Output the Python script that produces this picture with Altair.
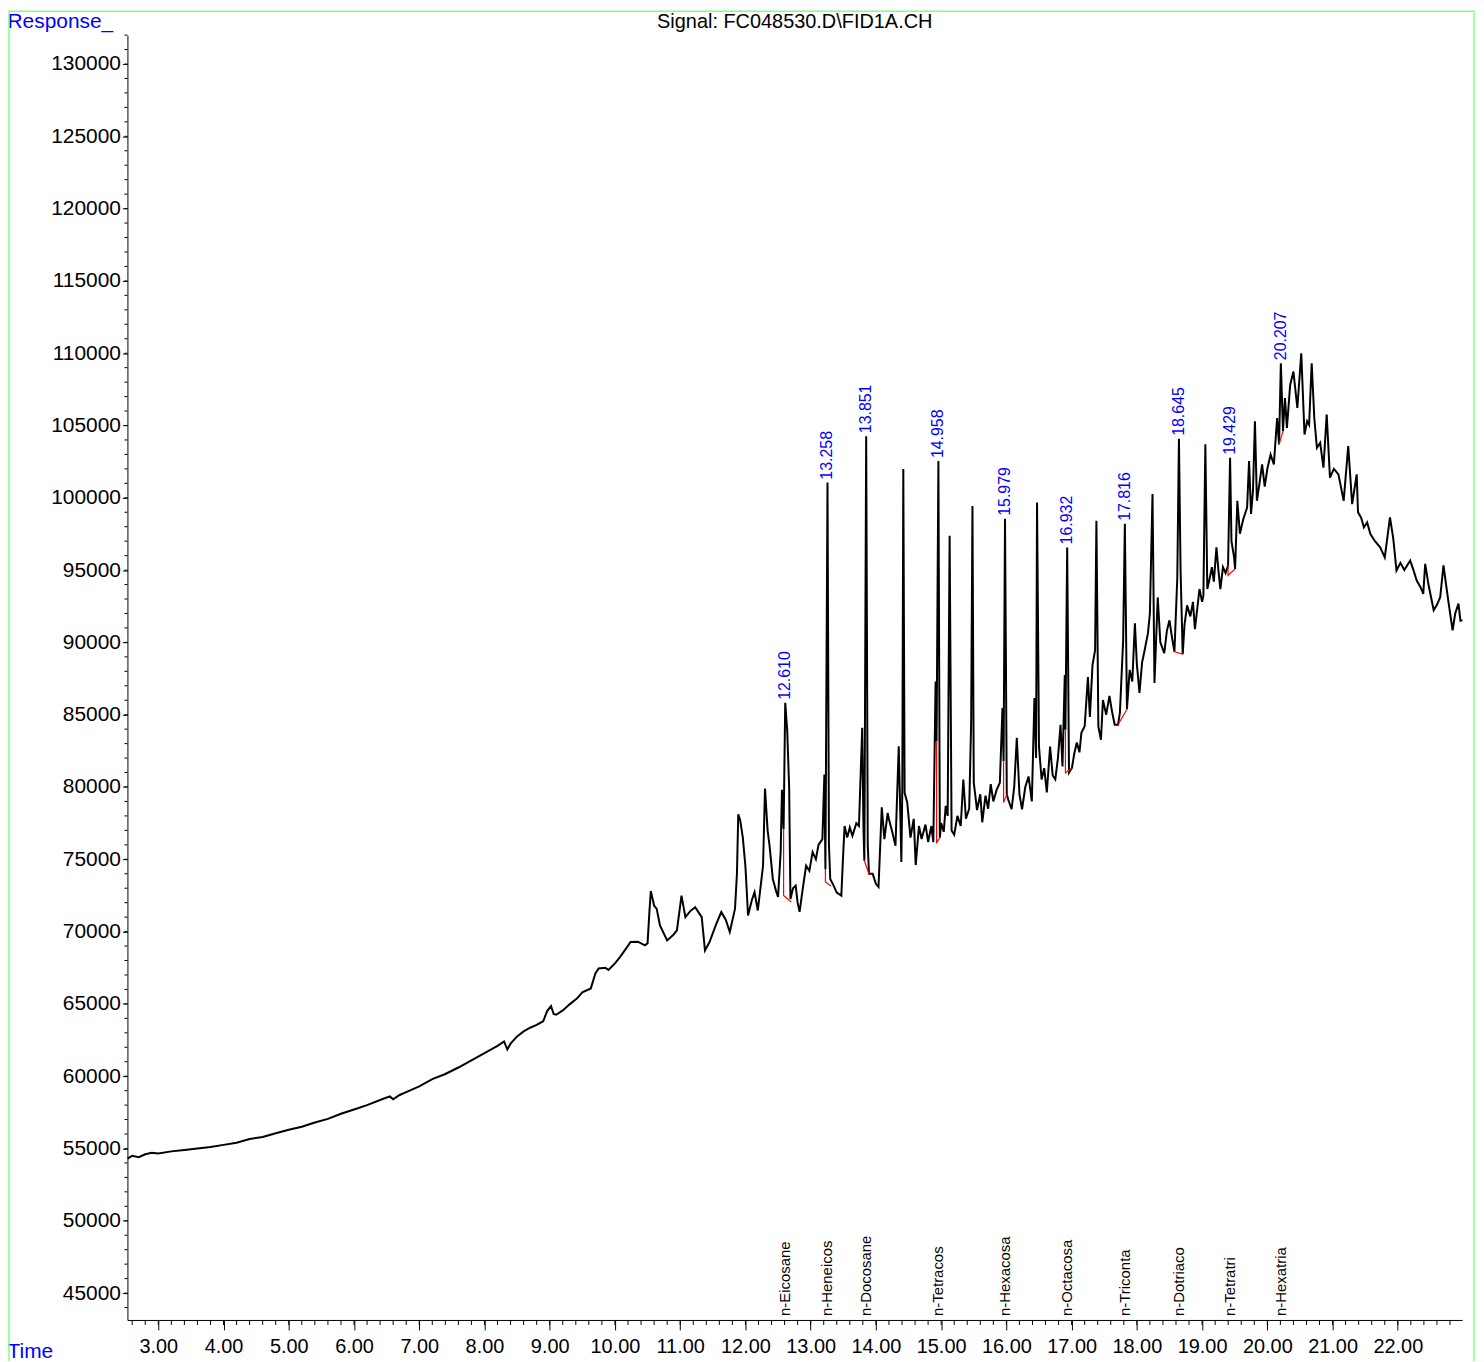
import altair as alt
import pandas as pd

# ---------------- data ----------------
time_min = [
    2.53, 2.60, 2.70, 2.80, 2.90, 3.00, 3.20, 3.40, 3.60, 3.80, 4.00, 4.20, 4.40, 4.60, 4.80,
    5.00, 5.20, 5.40, 5.60, 5.80, 6.00, 6.20, 6.40, 6.55, 6.60, 6.70, 6.80, 7.00, 7.20, 7.40,
    7.60, 7.80, 8.00, 8.20, 8.30, 8.35, 8.40, 8.50, 8.60, 8.70, 8.80, 8.90, 8.96, 9.02, 9.06,
    9.10, 9.20, 9.30, 9.42, 9.50, 9.63, 9.70, 9.75, 9.85, 9.90, 10.00, 10.08, 10.15, 10.24, 10.35,
    10.46, 10.50, 10.53, 10.55, 10.60, 10.64, 10.69, 10.80, 10.90, 10.95, 11.02, 11.08, 11.15, 11.23, 11.33,
    11.38, 11.45, 11.55, 11.63, 11.70, 11.76, 11.84, 11.87, 11.89, 11.92, 11.96, 12.00, 12.04, 12.10, 12.14,
    12.19, 12.27, 12.30, 12.34, 12.37, 12.42, 12.47, 12.50, 12.54, 12.56, 12.585, 12.61, 12.64, 12.67, 12.69,
    12.73, 12.77, 12.80, 12.83, 12.88, 12.93, 12.98, 13.03, 13.08, 13.12, 13.18, 13.21, 13.226, 13.258, 13.28,
    13.30, 13.35, 13.40, 13.47, 13.50, 13.52, 13.56, 13.60, 13.64, 13.70, 13.74, 13.79, 13.81, 13.823, 13.851,
    13.875, 13.894, 13.95, 14.00, 14.04, 14.09, 14.13, 14.18, 14.20, 14.25, 14.30, 14.35, 14.38, 14.39, 14.405,
    14.42, 14.44, 14.48, 14.53, 14.58, 14.61, 14.66, 14.70, 14.76, 14.80, 14.85, 14.88, 14.915, 14.93, 14.958,
    14.98, 15.00, 15.04, 15.07, 15.10, 15.13, 15.16, 15.20, 15.25, 15.30, 15.34, 15.38, 15.43, 15.46, 15.48,
    15.50, 15.55, 15.60, 15.63, 15.68, 15.72, 15.76, 15.80, 15.85, 15.90, 15.94, 15.957, 15.979, 16.006, 16.03,
    16.08, 16.12, 16.16, 16.20, 16.24, 16.29, 16.34, 16.39, 16.43, 16.455, 16.47, 16.50, 16.54, 16.58, 16.62,
    16.67, 16.71, 16.75, 16.79, 16.83, 16.86, 16.895, 16.905, 16.932, 16.96, 17.005, 17.04, 17.08, 17.12, 17.15,
    17.20, 17.25, 17.28, 17.32, 17.36, 17.38, 17.41, 17.45, 17.48, 17.53, 17.58, 17.62, 17.66, 17.711, 17.74,
    17.79, 17.816, 17.848, 17.89, 17.93, 17.97, 18.00, 18.04, 18.08, 18.12, 18.17, 18.20, 18.24, 18.27, 18.32,
    18.36, 18.42, 18.46, 18.50, 18.54, 18.576, 18.62, 18.645, 18.67, 18.703, 18.73, 18.77, 18.82, 18.86, 18.89,
    18.93, 18.96, 19.00, 19.02, 19.05, 19.08, 19.12, 19.15, 19.18, 19.22, 19.25, 19.28, 19.32, 19.36, 19.398,
    19.429, 19.45, 19.49, 19.506, 19.54, 19.58, 19.63, 19.69, 19.72, 19.75, 19.78, 19.81, 19.84, 19.88, 19.92,
    19.96, 20.00, 20.05, 20.10, 20.15, 20.18, 20.207, 20.24, 20.27, 20.30, 20.35, 20.40, 20.46, 20.52, 20.57,
    20.61, 20.64, 20.68, 20.72, 20.76, 20.81, 20.86, 20.91, 20.96, 21.02, 21.09, 21.17, 21.24, 21.30, 21.37,
    21.39, 21.44, 21.48, 21.53, 21.58, 21.65, 21.73, 21.80, 21.88, 21.93, 21.98, 22.04, 22.10, 22.19, 22.24,
    22.29, 22.35, 22.39, 22.42, 22.47, 22.55, 22.60, 22.65, 22.70, 22.74, 22.78, 22.84, 22.88, 22.93, 22.96,
    22.99,
]
response = [
    54300, 54500, 54400, 54600, 54700, 54650, 54800, 54900, 55000, 55100, 55250, 55400, 55650, 55800, 56050,
    56300, 56500, 56800, 57050, 57400, 57700, 58000, 58350, 58600, 58400, 58700, 58900, 59300, 59800, 60150,
    60600, 61100, 61600, 62100, 62400, 61850, 62250, 62750, 63100, 63350, 63550, 63800, 64500, 64850, 64300,
    64250, 64550, 64950, 65380, 65800, 66070, 67100, 67450, 67500, 67350, 67800, 68250, 68700, 69280, 69300,
    69050, 69200, 71500, 72800, 71800, 71570, 70420, 69390, 69800, 70080, 72490, 71000, 71400, 71690, 71000,
    68700, 69280, 70500, 71350, 70800, 69970, 71570, 74000, 78110, 77700, 76500, 74500, 71110, 72200, 72720,
    71460, 74550, 79900, 77000, 75930, 73640, 72800, 72400, 75500, 79800, 77080, 85820, 83960, 80000, 72260,
    73000, 73180, 72000, 71370, 73000, 74550, 74200, 75500, 75000, 76000, 76390, 80860, 74320, 101050, 76000,
    73640, 73200, 72700, 72490, 75500, 77300, 76500, 77200, 76620, 77500, 77300, 84100, 77000, 74900, 104260,
    76000, 74000, 74000, 73300, 73090, 78590, 76400, 78200, 77770, 76900, 75930, 82810, 77000, 74810, 80000,
    101990, 79600, 78930, 76500, 77800, 74600, 77300, 76400, 77400, 76200, 77300, 76180, 87290, 83150, 102540,
    76500, 77500, 76900, 78690, 78000, 97380, 77000, 76700, 78000, 77300, 80520, 77800, 78500, 84440, 99440,
    80310, 78400, 79500, 77560, 79400, 78500, 80200, 79000, 79800, 80300, 85470, 81780, 98550, 79490, 79100,
    78460, 80000, 83410, 79500, 78460, 80000, 80730, 79000, 86160, 82000, 99670, 82790, 80520, 81300, 79620,
    82790, 80800, 80520, 82000, 84300, 81420, 87750, 83960, 96570, 81000, 81320, 82300, 83070, 82400, 83750,
    84200, 87600, 84850, 88430, 89470, 98410, 84170, 83270, 86020, 85000, 86300, 85200, 84300, 84300, 85130,
    90150, 98200, 85380, 88100, 87300, 91320, 88500, 86510, 88600, 89470, 90640, 92010, 100270, 87190, 93110,
    90000, 89260, 90800, 91530, 90300, 89350, 94490, 104080, 95000, 89190, 91200, 92560, 91800, 92800, 90910,
    92500, 93690, 92800, 93250, 103710, 93690, 94500, 95200, 94200, 96570, 95000, 93690, 95200, 94800, 95320,
    102770, 97000, 95900, 95080, 99790, 97520, 98500, 99330, 102540, 98890, 100500, 105290, 99790, 101000, 102310,
    100780, 102000, 103000, 102300, 105520, 103690, 109310, 104610, 106900, 104840, 107800, 108730, 106210, 110000, 104380,
    105300, 105050, 109310, 105500, 103460, 103800, 102080, 105760, 101390, 102000, 101620, 99790, 103570, 99560, 101620,
    99000, 98600, 97950, 98300, 97490, 97000, 96570, 95880, 98640, 97200, 94970, 95500, 95000, 95660, 95000,
    94280, 93800, 93360, 95430, 94000, 92220, 92600, 93130, 95320, 94000, 92680, 90840, 92000, 92680, 91500,
    91530,
]

peak_rt = [12.610, 13.258, 13.851, 14.958, 15.979, 16.932, 17.816, 18.645, 19.429, 20.207]
peak_top = [85820, 101050, 104260, 102540, 98550, 96570, 98200, 104080, 102770, 109310]
peak_text = ["12.610", "13.258", "13.851", "14.958", "15.979", "16.932", "17.816", "18.645", "19.429", "20.207"]
compound = ["n-Eicosane", "n-Heneicos", "n-Docosane", "n-Tetracos", "n-Hexacosa",
            "n-Octacosa", "n-Triconta", "n-Dotriaco", "n-Tetratri", "n-Hexatria"]

# integration baselines (red), one polyline per peak
base_peak = [1, 1, 1, 2, 2, 2, 3, 3, 4, 4, 4, 5, 5, 5, 6, 6, 6, 7, 7, 8, 8, 9, 9, 9, 10, 10]
base_time = [12.585, 12.585, 12.703, 13.226, 13.226, 13.313, 13.823, 13.894, 14.93, 14.93, 14.99,
             15.957, 15.957, 16.006, 16.905, 16.905, 17.005, 17.711, 17.848, 18.576, 18.703,
             19.398, 19.398, 19.506, 20.18, 20.24]
base_resp = [77080, 72490, 72050, 74320, 73430, 73150, 74900, 73980, 83150, 76160, 76530,
             81780, 78920, 79490, 83960, 80980, 81320, 84300, 85380, 89350, 89190,
             95320, 94630, 95080, 103690, 104610]

x_major = [3, 4, 5, 6, 7, 8, 9, 10, 11, 12, 13, 14, 15, 16, 17, 18, 19, 20, 21, 22]
x_minor = [round(2.6 + 0.2 * i, 1) for i in range(102)]
y_major = [45000, 50000, 55000, 60000, 65000, 70000, 75000, 80000, 85000, 90000,
           95000, 100000, 105000, 110000, 115000, 120000, 125000, 130000]
y_minor = [44000 + 1000 * i for i in range(89)]

signal_title = "Signal: FC048530.D\\FID1A.CH"

# ---------------- chart ----------------
W, H = 1341, 1291
FONT = "Liberation Sans"
NARROW = "Liberation Sans Narrow, Liberation Sans"
BLUE = "#0000ff"

trace_df = pd.DataFrame({"t": time_min, "v": response})
peaks_df = pd.DataFrame({"t": peak_rt, "v": peak_top, "label": peak_text, "name": compound})
base_df = pd.DataFrame({"peak": base_peak, "t": base_time, "v": base_resp,
                        "seq": list(range(len(base_time)))})
xminor_df = pd.DataFrame({"t": x_minor})
yminor_df = pd.DataFrame({"v": y_minor})

xs = alt.Scale(domain=[2.527, 22.985], nice=False, zero=False)
ys = alt.Scale(domain=[43140, 132000], nice=False, zero=False)

major_x = alt.Axis(values=x_major, format=".2f", orient="bottom", tickSize=10, tickColor="black",
                   domainColor="black", labelColor="black", labelFont=NARROW, labelFontSize=20,
                   labelPadding=7, labelFlush=False, labelOverlap=False, grid=False,
                   title="Time", titleFont=NARROW, titleFontSize=21, titleFontWeight="normal",
                   titleColor=BLUE, titleAngle=0, titleAlign="left", titleBaseline="middle",
                   titleX=-121, titleY=32)
major_y = alt.Axis(values=y_major, format="d", orient="left", tickSize=5, tickColor="black",
                   domainColor="black", labelColor="black", labelFont=FONT, labelFontSize=21,
                   labelPadding=2, labelOverlap=False, labelFlush=False, grid=False,
                   title="Response_", titleFont=FONT, titleFontSize=21, titleFontWeight="normal",
                   titleColor=BLUE, titleAngle=0, titleAlign="left", titleBaseline="middle",
                   titleX=-121, titleY=-14)

trace = alt.Chart(trace_df).mark_line(color="black", strokeWidth=2.0).encode(
    x=alt.X("t:Q", scale=xs, axis=major_x),
    y=alt.Y("v:Q", scale=ys, axis=major_y),
)

baselines = alt.Chart(base_df).mark_line(color="#ff0000", strokeWidth=1.2).encode(
    x=alt.X("t:Q", scale=xs),
    y=alt.Y("v:Q", scale=ys),
    detail="peak:N",
    order="seq:Q",
)

minor_x_ticks = alt.Chart(xminor_df).mark_rule(color="black", strokeWidth=1).encode(
    x=alt.X("t:Q", scale=xs), y=alt.value(H), y2=alt.value(H + 5)
)
minor_y_ticks = alt.Chart(yminor_df).mark_rule(color="black", strokeWidth=1).encode(
    y=alt.Y("v:Q", scale=ys), x=alt.value(0), x2=alt.value(-3)
)

rt_labels = alt.Chart(peaks_df).mark_text(
    angle=270, align="left", baseline="middle", dx=3, font=FONT, fontSize=16, color=BLUE
).encode(x=alt.X("t:Q", scale=xs), y=alt.Y("v:Q", scale=ys), text="label:N")

name_labels = alt.Chart(peaks_df).mark_text(
    angle=270, align="left", baseline="middle", dx=4, font=FONT, fontSize=15, color="black"
).encode(x=alt.X("t:Q", scale=xs), y=alt.value(H), text="name:N")

title_mark = alt.Chart(pd.DataFrame({"title": [signal_title]})).mark_text(
    align="center", baseline="middle", font=FONT, fontSize=20, color="black"
).encode(x=alt.value(W / 2), y=alt.value(-13), text="title:N")

frame = alt.Chart(pd.DataFrame({"k": [0]})).mark_rect(
    fillOpacity=0, stroke="#80ff80", strokeWidth=1.5
).encode(x=alt.value(-119), x2=alt.value(1353), y=alt.value(-24), y2=alt.value(1400))

chart = alt.layer(
    trace, baselines, minor_x_ticks, minor_y_ticks, rt_labels, name_labels, title_mark, frame
).properties(
    width=W, height=H,
    autosize=alt.AutoSizeParams(type="none"),
    padding={"left": 120, "top": 24, "right": 14, "bottom": 38},
).configure_view(strokeWidth=0).configure_axis(grid=False)

chart.save("out.html", embed_options={"renderer": "svg", "actions": False})
